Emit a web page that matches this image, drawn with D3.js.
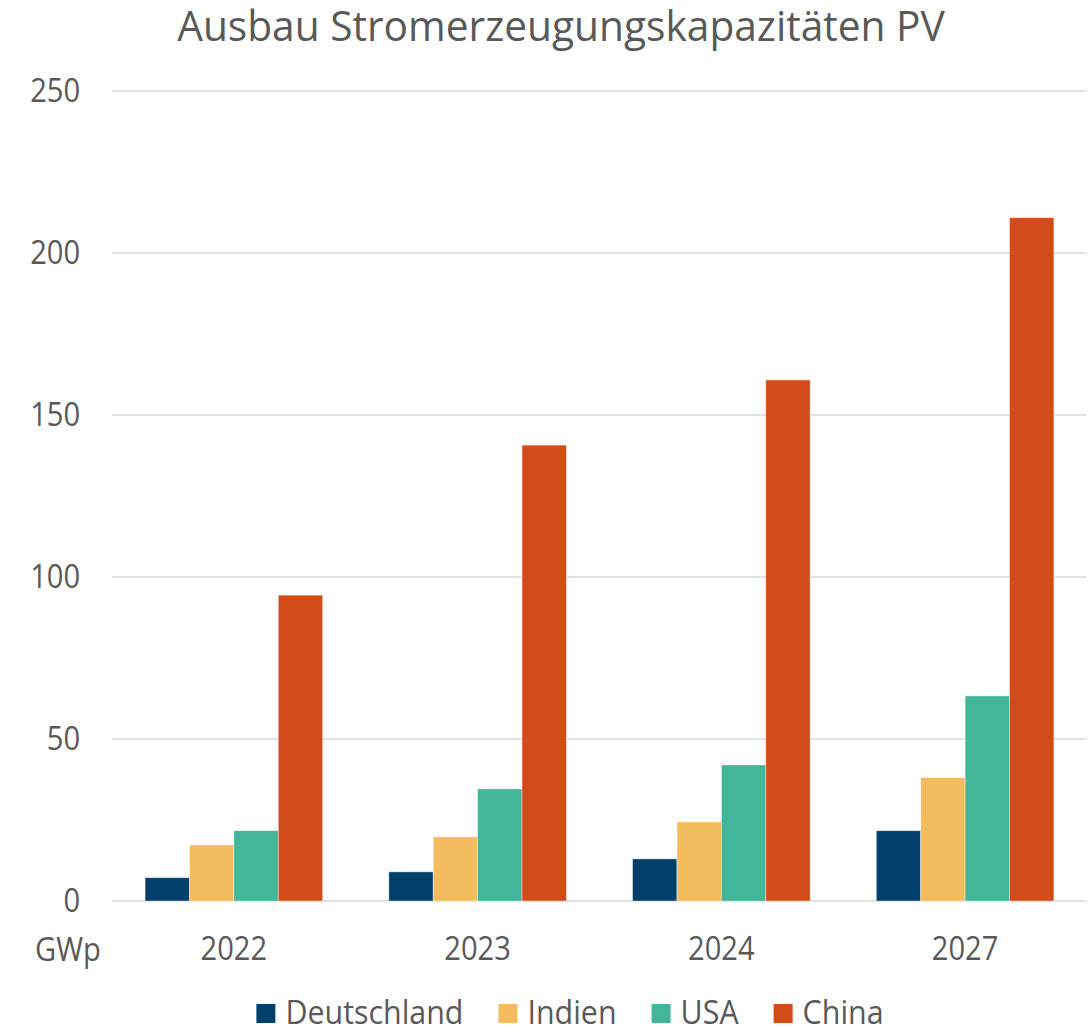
<!DOCTYPE html>
<html><head><meta charset="utf-8">
<script src="https://cdn.jsdelivr.net/npm/d3@7"></script>
<style>html,body{margin:0;padding:0;background:#fff;}svg{display:block;font-family:"Open Sans",sans-serif;}</style>
</head><body>
<svg id="c" width="1092" height="1027"></svg>
<script>
const title = "Ausbau Stromerzeugungskapazitäten PV";
const years = ["2022","2023","2024","2027"];
const seriesNames = ["Deutschland","Indien","USA","China"];
const seriesColors = ["#02406B","#F3BD5F","#43B598","#D24C1A"];
const deutschland = [7.2, 9.0, 13.0, 21.7];
const indien = [17.3, 19.8, 24.4, 38.1];
const usa = [21.7, 34.6, 42.0, 63.3];
const china = [94.4, 140.7, 160.8, 210.9];
const yTicks = [0,50,100,150,200,250];
const unitLabel = "GWp";

const seriesValues = [deutschland, indien, usa, china];
const rows = years.map((y,i)=>({year:y, vals: seriesNames.map((s,j)=>({key:s, value:seriesValues[j][i], color:seriesColors[j]}))}));

const SX = 0.91;
const textCol = "#595959";
const svg = d3.select("#c");
const L = 112, R = 1087, T = 91, B = 901;

const y = d3.scaleLinear().domain([0,250]).range([B,T]);
const x0 = d3.scaleBand().domain(years).range([L,R]).padding(0);
const x1 = d3.scaleBand().domain(seriesNames).range([0,x0.bandwidth()]).paddingInner(0).paddingOuter(0.745);

// gridlines
svg.append("g").selectAll("line").data(yTicks).join("line")
  .attr("x1",L).attr("x2",R).attr("y1",d=>y(d)).attr("y2",d=>y(d))
  .attr("stroke","#d9d9d9").attr("stroke-width",1.5);

// y axis labels
const ya = svg.append("g").attr("transform",`translate(${L},0)`)
  .call(d3.axisLeft(y).tickValues(yTicks).tickSize(0).tickPadding(35).tickFormat(d3.format("d")));
ya.select(".domain").remove();
ya.selectAll("text").attr("font-size",32).attr("fill",textCol).attr("font-family","Open Sans").attr("transform",`scale(${SX},1)`);

// bars
const g = svg.append("g").selectAll("g").data(rows).join("g").attr("transform",d=>`translate(${x0(d.year)},0)`);
g.selectAll("rect").data(d=>d.vals).join("rect")
  .attr("x",d=>x1(d.key)).attr("width",x1.bandwidth())
  .attr("y",d=>y(d.value)).attr("height",d=>y(0)-y(d.value))
  .attr("fill",d=>d.color).attr("stroke","rgba(255,255,255,0.5)").attr("stroke-width",0.8);

// x axis
const xa = svg.append("g").attr("transform",`translate(0,${B})`)
  .call(d3.axisBottom(x0).tickSize(0).tickPadding(36));
xa.select(".domain").remove();
xa.selectAll("text").attr("font-size",32).attr("fill",textCol).attr("font-family","Open Sans").attr("transform",`scale(${SX},1)`);

// unit label
svg.append("text").attr("transform",`translate(35,961) scale(${SX},1)`)
  .attr("font-size",32).attr("fill",textCol).text(unitLabel);

// title
const tt = svg.append("text").attr("text-anchor","middle").attr("font-size",42).attr("fill",textCol).text(title);
const tw = tt.node().getComputedTextLength();
tt.attr("transform",`translate(561,41) scale(${768/tw},1)`);

// legend
const LSX = 0.95;
const lg = svg.append("g");
const items = seriesNames.map((s,i)=>{
  const gi = lg.append("g");
  gi.append("rect").attr("x",0).attr("y",1004).attr("width",19).attr("height",19).attr("fill",seriesColors[i]);
  const t = gi.append("text").attr("transform",`translate(29,1024) scale(${LSX},1)`).attr("font-size",32).attr("fill",textCol).text(s);
  const w = 29 + t.node().getComputedTextLength()*LSX;
  return {gi,w};
});
const gap = 35;
const total = d3.sum(items,d=>d.w) + gap*(items.length-1);
let cx = 570 - total/2;
items.forEach(it=>{ it.gi.attr("transform",`translate(${cx},0)`); cx += it.w + gap; });
</script>
</body></html>
